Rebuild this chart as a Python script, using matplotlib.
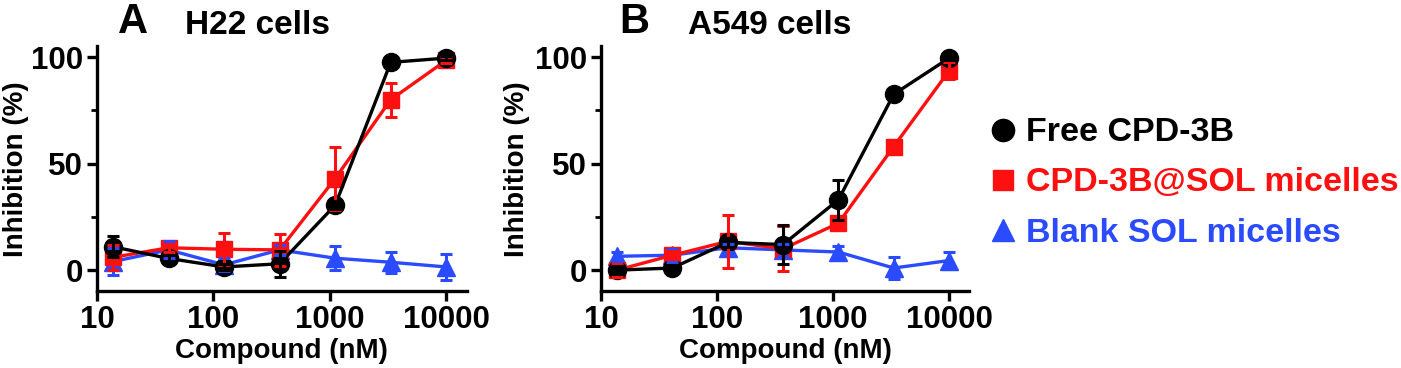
import matplotlib
matplotlib.use("Agg")
import matplotlib.pyplot as plt
from matplotlib.lines import Line2D
from matplotlib.ticker import FixedLocator, LogLocator, NullFormatter

plt.rcParams["font.family"] = "Liberation Sans"
plt.rcParams["font.weight"] = "bold"

# concentrations (nM), 3-fold dilution series
conc = [13.7, 41.2, 123.5, 370.4, 1111, 3333, 10000]

# panel A - H22 cells
free_a = [11, 5.5, 1.5, 3, 30.5, 97.5, 99.5]
free_a_err = [5, 1.5, 1.5, 6, 2, 1, 1]
sol_a = [6, 10.5, 9.8, 9.5, 43, 80, 98.5]
sol_a_err = [6, 2, 7.5, 7.5, 15, 8, 1.5]
blank_a = [4, 9.5, 2.5, 9.5, 5.6, 3.7, 1.5]
blank_a_err = [6.5, 4, 3, 2.5, 5.5, 5, 6]

# panel B - A549 cells
free_b = [0, 1, 13, 12, 33, 82.5, 99.5]
free_b_err = [2, 1.5, 2, 9, 9.5, 1.5, 1]
sol_b = [0, 7, 13.5, 10, 22, 58, 93.5]
sol_b_err = [3, 2, 12.5, 10.5, 2, 3, 4]
blank_b = [6.5, 7, 10.5, 9.5, 8.5, 1, 4.5]
blank_b_err = [2, 3, 2, 3, 3, 5, 4]

labels = ["Free CPD-3B", "CPD-3B@SOL micelles", "Blank SOL micelles"]
colors = ["#000000", "#FF1010", "#2A4BFF"]
markers = ["o", "s", "^"]
msizes = [13, 11, 13]

fig = plt.figure(figsize=(14.01, 3.68), dpi=100)
ax_a = fig.add_axes([0.0692, 0.208, 0.264, 0.666])
ax_b = fig.add_axes([0.429, 0.208, 0.263, 0.666])


def draw_panel(ax, series, errs, ylab_x):
    # draw blue first, then red, then black so black circles sit on top
    for i in [2, 1, 0]:
        ax.plot(conc, series[i], color=colors[i], lw=2.4, marker=markers[i],
                ms=msizes[i], mec=colors[i], mfc=colors[i], zorder=3 + (2 - i))
    for i in [2, 1, 0]:
        ax.errorbar(conc, series[i], yerr=errs[i], fmt="none", ecolor=colors[i],
                    elinewidth=2.2, capsize=4, capthick=2.2, zorder=7)

    ax.set_xscale("log")
    ax.set_xlim(10, 15000)
    ax.set_ylim(-10, 105)
    ax.set_xticks([10, 100, 1000, 10000])
    ax.set_xticklabels(["10", "100", "1000", "10000"])
    ax.xaxis.set_minor_locator(LogLocator(base=10, subs=range(2, 10)))
    ax.xaxis.set_minor_formatter(NullFormatter())
    ax.set_yticks([0, 50, 100])
    ax.yaxis.set_minor_locator(FixedLocator([25, 75]))

    for s in ["top", "right"]:
        ax.spines[s].set_visible(False)
    for s in ["left", "bottom"]:
        ax.spines[s].set_linewidth(2.4)
    ax.tick_params(which="major", direction="out", length=7, width=2.4,
                   labelsize=22.5, pad=3)
    ax.tick_params(which="minor", direction="out", length=4, width=2.0)
    for lab in ax.get_xticklabels() + ax.get_yticklabels():
        lab.set_fontweight("bold")
    ax.set_xlabel("Compound (nM)", fontsize=20, fontweight="bold", labelpad=2)
    ax.set_ylabel("Inhibition (%)", fontsize=20, fontweight="bold")
    # label anchor is the right-hand edge of the rotated text
    ax.yaxis.set_label_coords(ylab_x, 0.5)


draw_panel(ax_a, [free_a, sol_a, blank_a], [free_a_err, sol_a_err, blank_a_err], -0.184)
draw_panel(ax_b, [free_b, sol_b, blank_b], [free_b_err, sol_b_err, blank_b_err], -0.192)

# panel letters and titles
fig.text(133 / 1401, 1 - 22 / 368, "A", fontsize=30, fontweight="bold",
         ha="center", va="center")
fig.text(185 / 1401, 1 - 25 / 368, "H22 cells", fontsize=24, fontweight="bold",
         ha="left", va="center")
fig.text(634 / 1401, 1 - 22 / 368, "B", fontsize=30, fontweight="bold",
         ha="center", va="center")
fig.text(688 / 1401, 1 - 25 / 368, "A549 cells", fontsize=24, fontweight="bold",
         ha="left", va="center")

# legend
handles = [Line2D([], [], linestyle="none", marker=markers[i], color=colors[i],
                  ms=[16, 14, 16][i]) for i in range(3)]
leg = fig.legend(handles, labels, loc="center left",
                 bbox_to_anchor=(989 / 1401, 1 - 183 / 368), frameon=False,
                 fontsize=24.5, handlelength=0.8, handletextpad=0.3,
                 labelspacing=0.56, borderpad=0, borderaxespad=0)
for txt, c in zip(leg.get_texts(), colors):
    txt.set_color(c)
    txt.set_fontweight("bold")

fig.savefig("out.png", dpi=100, facecolor="white")
